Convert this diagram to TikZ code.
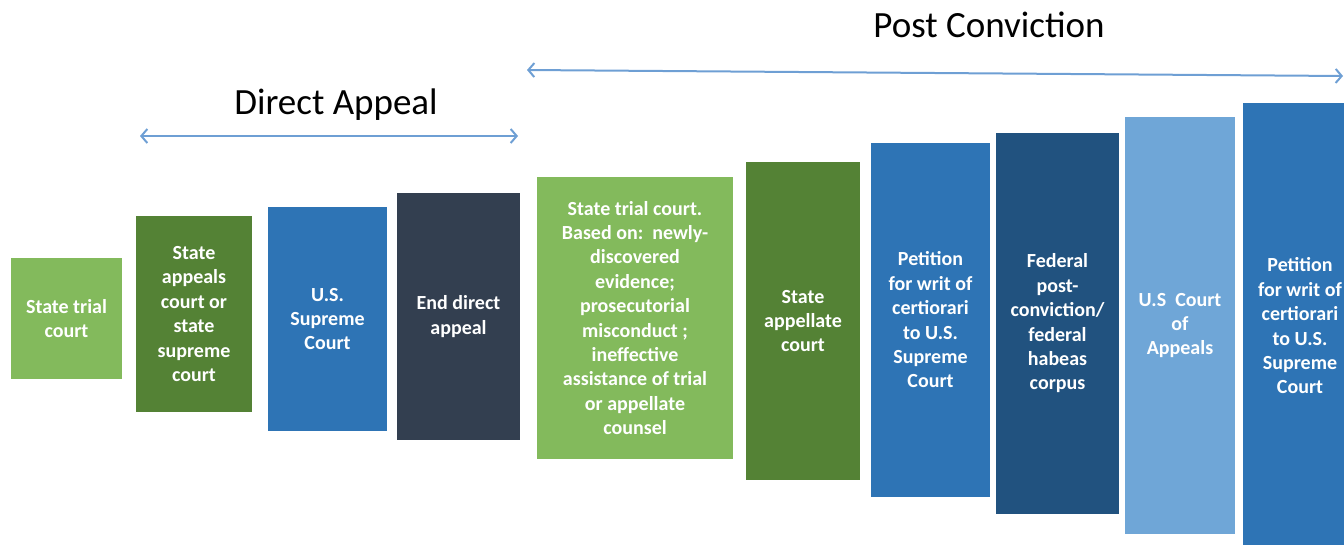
\documentclass[tikz,border=0pt]{standalone}
\usepackage{fontspec}
\setmainfont{Carlito}
\usetikzlibrary{arrows.meta}
\definecolor{lgreen}{HTML}{83BA5C}
\definecolor{dgreen}{HTML}{548235}
\definecolor{mblue}{HTML}{2E74B5}
\definecolor{slate}{HTML}{333F50}
\definecolor{nblue}{HTML}{21527F}
\definecolor{sblue}{HTML}{6FA6D7}
\definecolor{arrowblue}{HTML}{6E9FD4}
\tikzset{
  box/.style={rectangle, inner sep=0pt, align=center, text=white,
    font=\bfseries\fontsize{20}{24.4}\selectfont},
  title/.style={font=\fontsize{37}{40}\selectfont, text=black, inner sep=0pt},
  span/.style={draw=arrowblue, line width=2pt,
    {Straight Barb[length=6pt,width=14pt,line width=2pt]}-{Straight Barb[length=6pt,width=14pt,line width=2pt]}}
}
\begin{document}
\begin{tikzpicture}[x=1pt,y=-1pt]
\useasboundingbox (0,0) rectangle (1344,544);
\clip (0,0) rectangle (1344,544);
\node[box, fill=lgreen, minimum width=111pt, minimum height=121pt] (b1) at (66.5,318.5) {State trial\\court};
\node[box, fill=dgreen, minimum width=116pt, minimum height=196pt] (b2) at (194,314) {State\\appeals\\court or\\state\\supreme\\court};
\node[box, fill=mblue, minimum width=119pt, minimum height=224pt] (b3) at (327.5,319) {U.S.\\Supreme\\Court};
\node[box, fill=slate, minimum width=123pt, minimum height=247pt] (b4) at (458.5,316.5) {End direct\\appeal};
\node[box, fill=lgreen, minimum width=196pt, minimum height=282pt] (b5) at (635,318) {State trial court.\\Based on:~~newly-\\discovered\\evidence;\\prosecutorial\\misconduct~;\\ineffective\\assistance of trial\\or appellate\\counsel};
\node[box, fill=dgreen, minimum width=114pt, minimum height=318pt] (b6) at (803,321) {State\\appellate\\court};
\node[box, fill=mblue, minimum width=119pt, minimum height=354pt] (b7) at (930.5,320) {Petition\\for writ of\\certiorari\\to U.S.\\Supreme\\Court};
\node[box, fill=nblue, minimum width=123pt, minimum height=381pt] (b8) at (1057.5,323.5) {Federal\\post-\\conviction/\\federal\\habeas\\corpus};
\node[box, fill=sblue, minimum width=110pt, minimum height=417pt] (b9) at (1180,325.5) {U.S~~Court\\of\\Appeals};
\node[box, fill=mblue, minimum width=114pt, minimum height=446pt] (b10) at (1300,326) {Petition\\for writ of\\certiorari\\to U.S.\\Supreme\\Court};
\node[title, anchor=base] (da) at (336,114) {Direct Appeal};
\node[title, anchor=base] (pc) at (989,37) {Post Conviction};
\coordinate (da1) at (140,136);
\coordinate (da2) at (518,136);
\coordinate (pc1) at (527,70);
\coordinate (pc2) at (1343,76);
\draw[span] (da1) -- (da2);
\draw[span] (pc1) -- (pc2);
\end{tikzpicture}
\end{document}
